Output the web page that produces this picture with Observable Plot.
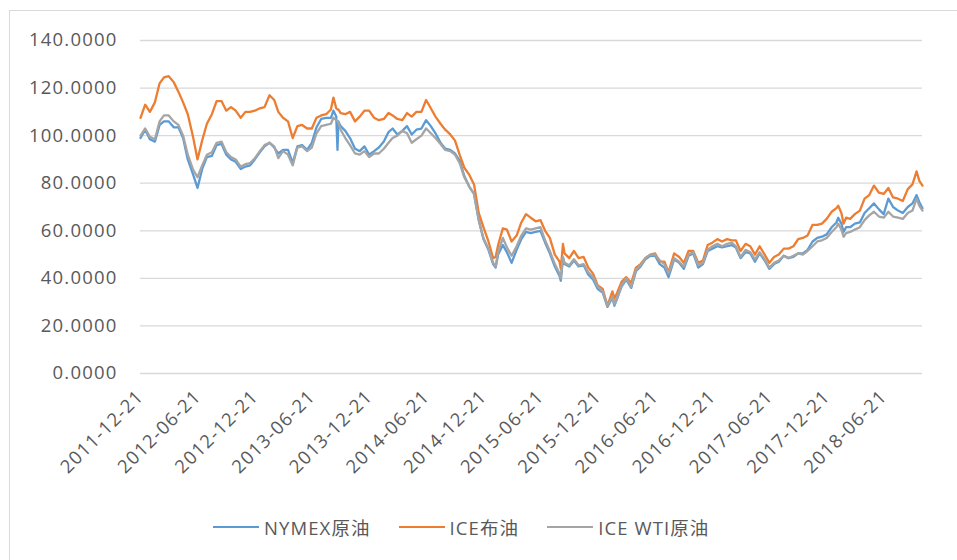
<!DOCTYPE html>
<html>
<head>
<meta charset="utf-8">
<script src="https://cdn.jsdelivr.net/npm/d3@7"></script>
<script src="https://cdn.jsdelivr.net/npm/@observablehq/plot@0.6"></script>
<style>
  html, body { margin: 0; padding: 0; background: #fff; }
  #wrap { position: relative; width: 957px; height: 560px; overflow: hidden; font-family: "Open Sans", "Noto Sans CJK SC", sans-serif; }
  #frame { position: absolute; left: 9px; top: 10px; width: 1200px; height: 900px; border: 1px solid #d9d9d9; box-sizing: border-box; pointer-events: none; }
  #legend { position: absolute; left: 0; top: 507px; width: 957px; height: 40px; display: flex; align-items: center; font-size: 18.5px; letter-spacing: 1.1px; color: #595959; }
  .item { display: flex; align-items: center; margin-right: 28px; }
  .sw { width: 46px; height: 2.5px; margin-right: 5px; }
</style>
</head>
<body>
<div id="wrap">
  <div id="frame"></div>
  <div id="chart"></div>
  <div id="legend"></div>
</div>
<script>
const dates = [
"2011-12-21","2012-01-05","2012-01-20","2012-02-05","2012-02-20","2012-03-05","2012-03-20","2012-04-05","2012-04-20","2012-05-05",
"2012-05-20","2012-06-05","2012-06-20","2012-07-05","2012-07-20","2012-08-05","2012-08-20","2012-09-05","2012-09-20","2012-10-05",
"2012-10-20","2012-11-05","2012-11-20","2012-12-05","2012-12-20","2013-01-05","2013-01-20","2013-02-05","2013-02-20","2013-03-05",
"2013-03-20","2013-04-05","2013-04-20","2013-05-05","2013-05-20","2013-06-05","2013-06-20","2013-07-05","2013-07-20","2013-08-05",
"2013-08-20","2013-08-28","2013-09-06","2013-09-10","2013-09-13","2013-09-20","2013-10-05","2013-10-20","2013-11-05","2013-11-20",
"2013-12-05","2013-12-20","2014-01-05","2014-01-20","2014-02-05","2014-02-20","2014-03-05","2014-03-20","2014-04-05","2014-04-20",
"2014-05-05","2014-05-20","2014-06-05","2014-06-20","2014-07-05","2014-07-20","2014-08-05","2014-08-20","2014-09-05","2014-09-20",
"2014-10-05","2014-10-20","2014-11-05","2014-11-20","2014-12-05","2014-12-20","2015-01-05","2015-01-20","2015-01-28","2015-02-05",
"2015-02-20","2015-03-05","2015-03-20","2015-04-05","2015-04-20","2015-05-05","2015-05-20","2015-06-05","2015-06-20","2015-07-05",
"2015-07-20","2015-08-05","2015-08-20","2015-08-24","2015-08-31","2015-09-05","2015-09-20","2015-10-05","2015-10-20","2015-11-05",
"2015-11-20","2015-12-05","2015-12-20","2016-01-05","2016-01-20","2016-02-05","2016-02-11","2016-02-20","2016-03-05","2016-03-20",
"2016-04-05","2016-04-20","2016-05-05","2016-05-20","2016-06-05","2016-06-20","2016-07-05","2016-07-20","2016-08-02","2016-08-20",
"2016-09-05","2016-09-20","2016-10-05","2016-10-20","2016-11-05","2016-11-20","2016-12-05","2016-12-20","2017-01-05","2017-01-20",
"2017-02-05","2017-02-20","2017-03-05","2017-03-20","2017-04-05","2017-04-20","2017-05-05","2017-05-20","2017-06-05","2017-06-20",
"2017-07-05","2017-07-20","2017-08-05","2017-08-20","2017-09-05","2017-09-20","2017-10-05","2017-10-20","2017-11-05","2017-11-20",
"2017-12-05","2017-12-20","2018-01-05","2018-01-20","2018-01-26","2018-02-05","2018-02-12","2018-02-20","2018-03-05","2018-03-20",
"2018-04-05","2018-04-20","2018-05-05","2018-05-20","2018-06-05","2018-06-20","2018-07-05","2018-07-20","2018-08-05","2018-08-20",
"2018-09-05","2018-09-20","2018-10-03","2018-10-12","2018-10-22"
];

// ICE布油 (orange)
const iceBrent = [
107.5,113,110,114,122,124.5,125,122.5,118.5,114,
109,100,90,98,105,109,114.5,114.5,110.5,112,
110.5,107.5,110,110,110.5,111.5,112,117,115,110,
107.5,106,99,104,104.5,103,103,107.5,108.5,109,
111,116,111.5,111,111,109.5,109,110,106,108,
110.5,110.5,107.5,106.5,107,109.5,108.5,107,106.5,109.5,
108,110,110,115,111.5,108,105,102.5,100.5,98,
92,86.5,83.5,79.5,67.5,61.5,55.5,48.5,49,54,
61,60.5,55.5,58,63.5,67,65.5,64,64.5,60,
57,50,47,44,54.5,50.5,48.5,51.5,48.5,49,
44.5,42,37,35.5,28.5,34.5,31.5,34,38.5,40.5,
38,44.5,46,48.5,50,50.5,47,47,42.5,50.5,
49,46.5,51.5,51.5,46.5,47.5,54,55,56.5,55.5,
56.5,56,56,51.5,54.5,53.5,50,53.5,50,46.5,
49,50,52.5,52.5,53.5,56.5,57,58,62.5,62.5,
63,65,68,69.5,70.5,67.5,63,65.5,65,67,
68.5,73.5,75,79,76,75.5,78,74,73.5,72.5,
77.5,79.5,85,81,79
];

// NYMEX原油 (blue)
const nymex = [
99,102.5,98.5,97.5,104.5,106,106,103.5,103.5,99,
90,84,78,86,91,91.5,96,96.5,92,90,
89,86,87,87.5,90,93,95.5,97,95,92.5,
94,94,88.5,95.5,96,94,97,103.5,107,107.5,
107.5,110.5,108,94,106,104,102,99,94.5,93.5,
95.5,92,93.5,95,97.5,101.5,103,100.5,102,104,
100.5,102.5,103,106.5,104,101,97,94.5,94,92.5,
89.5,83,78.5,75.5,64.5,56.5,52,46,44.5,50,
54,51,46.5,52,56.5,59.5,59,59.5,60,55,
50.5,45,41,39,48.5,46,45,47.5,45,45.5,
41.5,39.5,35.5,34,28,32,28.5,31.5,36.5,39.5,
36,43,45,48,49.5,49.5,46,44.5,40.5,48,
46.5,44,49.5,50.5,44.5,46,51.5,52.5,53.5,53,
53.5,54,53,48.5,51,50.5,47,50.5,47.5,44,
46,47,49.5,48.5,49,50.5,50.5,52,55.5,57,
57.5,58.5,61.5,63.5,65.5,63,59.5,61.5,61.5,63,
63.5,67.5,69.5,71.5,69,67,73.5,70,68.5,67.5,
70,71.5,75,72,69.5
];

// ICE WTI原油 (gray)
const iceWti = [
100,103,99.5,98.5,106,108.5,108.5,106,104.5,100,
92,86,82.5,87.5,92,93,97,97.5,93,91,
90,87,88,88.5,90.5,93.5,96,97,95.5,90.5,
93.5,92,87.5,95,95.5,93.5,95,101,104,104.5,
105,107.5,106.5,106,105.5,102.5,99,96,92.5,92,
93.5,91,92.5,92.5,94.5,97,99,100,102,101,
97,98.5,100,103,101,99,96.5,94,93.5,92,
88.5,82.5,78.5,75.5,64.5,57,52.5,46.5,45,51,
57,53,49.5,53.5,58,61,60.5,61,61.5,56,
51.5,46,42,40,49,46.5,45.5,48,45.5,46,
42.5,40.5,36.5,34.5,28.5,32.5,29,32,37,40,
36.5,43.5,45.5,48.5,50,50,47.5,46,42,48.5,
47,45,50,51,45.5,46.5,52,53.5,54.5,53.5,
54.5,55,53.5,49,52,51,48,51,48,44.5,
46.5,47.5,49.5,48.5,49.5,50.5,50,51.5,53.5,55.5,
56,57,59.5,61.5,63,60.5,57.5,59,59.5,60.5,
61.5,64.5,66.5,68,66,65.5,68,66,65.5,65,
67.5,68.5,73.5,70.5,68.5
];

const xTickLabels = ["2011-12-21","2012-06-21","2012-12-21","2013-06-21","2013-12-21","2014-06-21","2014-12-21",
  "2015-06-21","2015-12-21","2016-06-21","2016-12-21","2017-06-21","2017-12-21","2018-06-21"];
const yTickValues = [0, 20, 40, 60, 80, 100, 120, 140];
const seriesNames = ["NYMEX原油", "ICE布油", "ICE WTI原油"];
const seriesColors = ["#5B9BD5", "#ED7D31", "#A5A5A5"];

const parse = d3.utcParse("%Y-%m-%d");
const seriesValues = [nymex, iceBrent, iceWti];
const tables = seriesValues.map(vals => dates.map((d, i) => ({date: parse(d), value: vals[i]})));
const xTicks = xTickLabels.map(parse);

const chart = Plot.plot({
  width: 957,
  height: 507,
  marginLeft: 140,
  marginRight: 35,
  marginTop: 40,
  marginBottom: 134,
  style: {fontFamily: "'Open Sans', 'Noto Sans CJK SC', sans-serif", fontSize: "18.5px", color: "#595959", background: "transparent", letterSpacing: "1.2px"},
  x: {type: "utc", domain: [parse(dates[0]), parse(dates[dates.length - 1])]},
  y: {domain: [0, 140]},
  marks: [
    Plot.ruleY(yTickValues, {stroke: "#d9d9d9", strokeWidth: 1.3}),
    Plot.axisY({ticks: yTickValues, tickFormat: d => d.toFixed(4), tickSize: 0, tickPadding: 23, label: null, fill: "#595959"}),
    Plot.axisX({ticks: xTicks, tickFormat: d3.utcFormat("%Y-%m-%d"), tickRotate: -45, tickSize: 0, tickPadding: 20, label: null, fill: "#595959"}),
    ...tables.map((t, i) => Plot.line(t, {x: "date", y: "value", stroke: seriesColors[i], strokeWidth: 2.3, curve: "linear"}))
  ]
});
document.getElementById("chart").appendChild(chart);

const legend = document.getElementById("legend");
legend.style.paddingLeft = "213px";
legend.style.boxSizing = "border-box";
seriesNames.forEach((name, i) => {
  const it = document.createElement("div");
  it.className = "item";
  const sw = document.createElement("div");
  sw.className = "sw";
  sw.style.background = seriesColors[i];
  const tx = document.createElement("span");
  tx.textContent = name;
  it.appendChild(sw);
  it.appendChild(tx);
  legend.appendChild(it);
});
</script>
</body>
</html>
